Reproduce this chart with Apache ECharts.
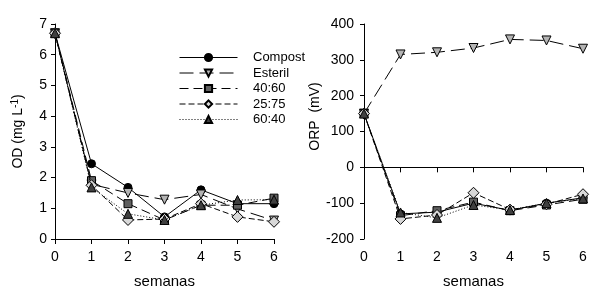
<!DOCTYPE html>
<html><head><meta charset="utf-8">
<script src="https://cdn.jsdelivr.net/npm/echarts@6/dist/echarts.min.js"></script>
<style>html,body{margin:0;padding:0;background:#fff}#c{width:605px;height:294px}</style>
</head><body><div id="c"></div>
<script>
var weeks = [0, 1, 2, 3, 4, 5, 6];
var seriesNames = ['Compost', 'Esteril', '40:60', '25:75', '60:40'];
// OD (mg L-1)
var odCompost = [6.7, 2.45, 1.68, 0.72, 1.6, 1.15, 1.15];
var odEsteril = [6.7, 1.78, 1.5, 1.28, 1.45, 0.98, 0.6];
var od4060    = [6.7, 1.9, 1.15, 0.62, 1.1, 1.1, 1.33];
var od2575    = [6.7, 1.75, 0.62, 0.65, 1.15, 0.72, 0.56];
var od6040    = [6.7, 1.68, 0.82, 0.62, 1.1, 1.27, 1.28];
// ORP (mV)
var orpCompost = [150, -130, -125, -100, -120, -100, -85];
var orpEsteril = [150, 315, 321, 333, 357, 354, 331];
var orp4060    = [150, -135, -121, -97, -121, -105, -89];
var orp2575    = [150, -144, -133, -71, -118, -103, -75];
var orp6040    = [150, -126, -141, -105, -119, -100, -87];

var styles = [
  {symbol:'circle', size:8, color:'#000000', dash:'solid', rot:0},
  {symbol:'triangle', size:9, color:'#b4b4b4', dash:[14,6], rot:180},
  {symbol:'rect', size:8, color:'#606060', dash:[9,5], rot:0},
  {symbol:'diamond', size:11, color:'#d8d8d8', dash:[6,3], rot:0},
  {symbol:'triangle', size:9, color:'#404040', dash:[1,2], rot:0}
];
var odData = [odCompost, odEsteril, od4060, od2575, od6040];
var orpData = [orpCompost, orpEsteril, orp4060, orp2575, orp6040];

function pairs(arr){ return weeks.map(function(w,i){ return [w, arr[i]]; }); }

var font = 'Liberation Sans, Arial, sans-serif';
function xAxis(idx){
  return {gridIndex: idx, type:'value', min:0, max:6, interval:1,
    name:'semanas', nameLocation:'middle', nameGap:35,
    nameTextStyle:{fontFamily:font, fontSize:15, color:'#000'},
    axisLine:{lineStyle:{color:'#000', width:1}},
    axisTick:{inside:false, length:5, lineStyle:{color:'#000'}},
    axisLabel:{fontFamily:font, fontSize:14, color:'#000', margin:11},
    splitLine:{show:false}};
}
var series = [];
seriesNames.forEach(function(n, k){
  var s = styles[k];
  [0,1].forEach(function(g){
    series.push({
      name:n, type:'line', xAxisIndex:g, yAxisIndex:g,
      data: pairs(g===0 ? odData[k] : orpData[k]),
      symbol:s.symbol, symbolSize:s.size, symbolRotate:s.rot,
      showAllSymbol:true,
      lineStyle:{color:'#000', width:1, type:s.dash},
      itemStyle:{color:s.color, borderColor:'#000', borderWidth:1, opacity:1},
      z: 2 + k,
      animation:false
    });
  });
});

var legends = seriesNames.map(function(n, k){
  return {
    orient:'horizontal', left:174, top:51 + k * 15.5, itemWidth:58, itemHeight:9,
    padding:[0,5,0,5],
    data:[n],
    lineStyle:{width:1},
    formatter:function(){ return ' '; },
    textStyle:{fontFamily:font, fontSize:13, color:'#000'}
  };
});
var legendTexts = seriesNames.map(function(n, k){
  return {type:'text', left:253, top:51 + k * 15.5,
          style:{text:n, font:'13px Liberation Sans, Arial, sans-serif', fill:'#000'}};
});

var chart = echarts.init(document.getElementById('c'), null, {renderer:'canvas'});
chart.setOption({
  animation:false,
  grid:[{left:55, right:331, top:24, bottom:52},
        {left:364, right:22, top:24, bottom:52}],
  xAxis:[xAxis(0), xAxis(1)],
  yAxis:[
    {gridIndex:0, type:'value', min:0, max:7, interval:1,
     name:'{a|OD (mg L}{s|-1}{a|)}', nameLocation:'middle', nameGap:29, nameRotate:90,
     nameTextStyle:{rich:{a:{fontFamily:font, fontSize:14, color:'#000'}, s:{fontFamily:font, fontSize:10, color:'#000', verticalAlign:'top', padding:[0,0,6,0]}}},
     axisLine:{show:true, lineStyle:{color:'#000'}},
     axisTick:{show:true, length:4, lineStyle:{color:'#000'}},
     axisLabel:{fontFamily:font, fontSize:14, color:'#000', margin:8},
     splitLine:{show:false}},
    {gridIndex:1, type:'value', min:-200, max:400, interval:100,
     name:'ORP  (mV)', nameLocation:'middle', nameGap:33, nameRotate:90,
     nameTextStyle:{fontFamily:font, fontSize:14, color:'#000', padding:[0,0,0,30]},
     axisLine:{show:true, onZero:false, lineStyle:{color:'#000'}},
     axisTick:{show:true, length:4, lineStyle:{color:'#000'}},
     axisLabel:{fontFamily:font, fontSize:14, color:'#000', margin:10},
     splitLine:{show:false}},
  ],
  legend: legends,
  graphic: legendTexts,
  series: series
});
</script></body></html>
